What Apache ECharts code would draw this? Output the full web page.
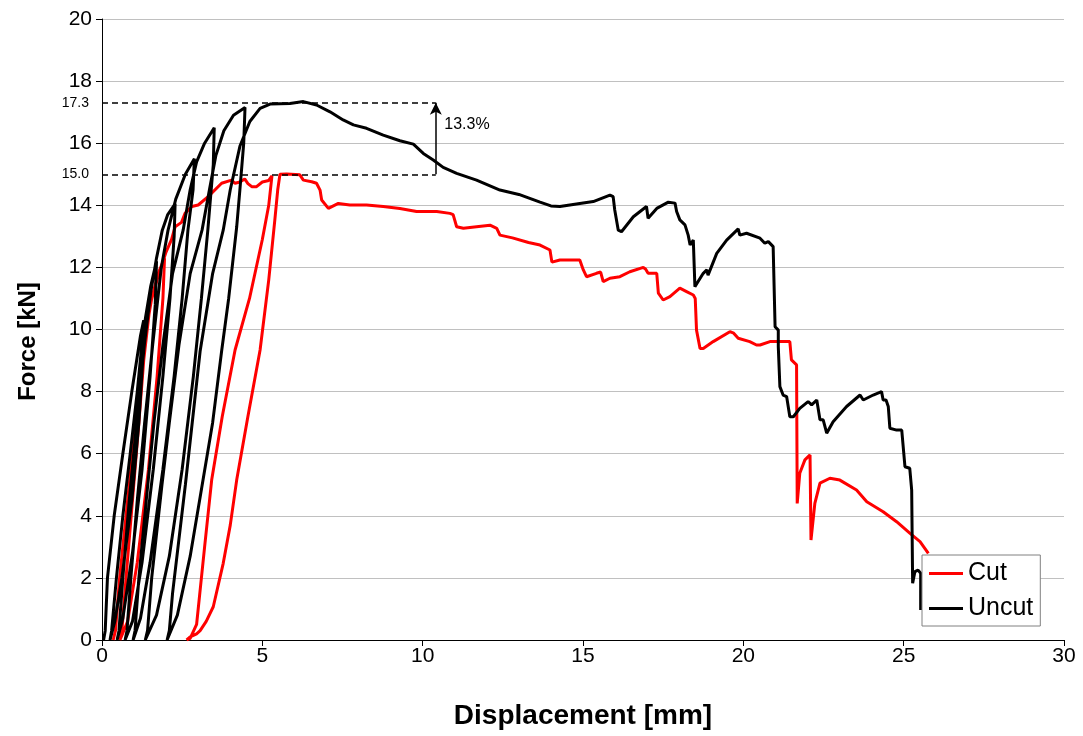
<!DOCTYPE html>
<html>
<head>
<meta charset="utf-8">
<script src="https://cdn.jsdelivr.net/npm/echarts@6/dist/echarts.min.js"></script>
<style>
html,body{margin:0;padding:0;background:#fff;}
#chart{width:1083px;height:736px;}
</style>
</head>
<body>
<div id="chart"></div>
<script>
// ---- data ----
const seriesNames = ['Cut', 'Uncut'];

const cutData = [
 [0.35,0],[0.42,0.3],[0.55,2],[0.75,4],[0.95,6],[1.15,8],[1.35,9.8],[1.55,11.0],[1.75,11.8],[1.95,12.3],
 [1.9,11.0],[1.72,8.5],[1.45,5.5],[1.1,2.5],[0.8,0.6],[0.56,0],
 [0.62,0.3],[0.75,2],[0.95,4.5],[1.15,7],[1.3,9],[1.5,10.8],[1.76,11.75],[2.0,12.5],[2.17,12.9],[2.28,13.31],[2.48,13.45],[2.59,13.74],[2.8,13.96],[3.0,14.01],[3.31,14.28],[3.73,14.71],[4.04,14.81],[4.15,14.71],[4.3,14.75],[4.45,14.85],[4.55,14.7],[4.67,14.6],[4.82,14.6],[5.0,14.75],[5.2,14.8],[5.3,14.95],
 [5.2,14.0],[5.0,12.9],[4.6,11.0],[4.15,9.34],[3.75,7.2],[3.42,5.15],[3.2,3.0],[3.05,1.5],[2.95,0.5],[2.75,0.05],[2.64,0],
 [2.75,0.1],[2.95,0.2],[3.06,0.3],[3.25,0.6],[3.47,1.07],[3.78,2.47],[4.0,3.7],[4.2,5.15],[4.55,7.2],[4.93,9.34],[5.2,11.6],[5.39,13.53],[5.48,14.5],[5.55,15.0],
 [5.76,15.01],[6.17,14.98],[6.28,14.81],[6.54,14.76],[6.69,14.71],[6.8,14.49],[6.85,14.17],[7.06,13.9],[7.37,14.06],[7.73,14.01],[8.25,14.01],[8.77,13.96],[9.29,13.9],[9.81,13.8],[10.44,13.8],[10.85,13.74],[10.95,13.7],[11.06,13.31],[11.27,13.26],[11.68,13.31],[12.1,13.36],[12.31,13.26],[12.41,13.04],[12.8,12.95],[13.3,12.8],[13.66,12.72],[13.97,12.56],[14.03,12.17],[14.28,12.24],[14.9,12.24],[15.01,11.92],[15.11,11.7],[15.42,11.81],[15.55,11.85],[15.63,11.54],[15.84,11.65],[16.15,11.7],[16.46,11.86],[16.88,12.0],[16.95,11.95],[17.03,11.81],[17.3,11.81],[17.35,11.17],[17.5,10.95],[17.71,11.06],[18.02,11.33],[18.23,11.22],[18.44,11.11],[18.5,11.0],[18.54,9.98],[18.65,9.39],[18.75,9.39],[19.06,9.61],[19.58,9.93],[19.7,9.88],[19.84,9.72],[20.2,9.61],[20.41,9.5],[20.52,9.5],[20.83,9.61],[21.45,9.61],[21.5,9.02],[21.66,8.86],[21.68,4.4],[21.76,5.37],[21.92,5.8],[22.08,5.96],[22.11,3.22],[22.23,4.4],[22.39,5.05],[22.7,5.21],[23.01,5.15],[23.53,4.83],[23.85,4.45],[24.36,4.13],[24.78,3.81],[25.19,3.44],[25.51,3.17],[25.77,2.79]
];

const uncutData = [
 [0.05,0],[0.1,0.3],[0.17,2],[0.38,4],[0.65,6],[0.93,8],[1.2,9.8],[1.3,10.3],
 [1.27,9.0],[1.15,7],[0.93,4.5],[0.62,2],[0.4,0.6],[0.25,0],
 [0.3,0.3],[0.45,2],[0.65,4],[0.88,6],[1.1,8],[1.26,9.7],[1.36,10.4],[1.52,11.4],[1.7,12.2],
 [1.66,10.8],[1.5,8.5],[1.25,5.5],[0.95,2.8],[0.65,0.7],[0.47,0],
 [0.53,0.3],[0.65,2],[0.85,4.5],[1.08,7],[1.32,9.5],[1.52,11.2],[1.7,12.3],[1.88,13.2],[2.05,13.7],[2.28,14.05],
 [2.25,13.0],[2.12,11],[1.9,8.5],[1.6,5.5],[1.25,2.5],[0.95,0.6],[0.72,0],
 [0.78,0.3],[0.9,2],[1.1,4.5],[1.33,7],[1.58,9.5],[1.85,12],[2.06,13.2],[2.3,14.2],[2.6,15.0],[2.88,15.5],
 [2.84,14.5],[2.68,13.2],[2.5,11],[2.25,8.5],[1.9,5.5],[1.5,2.5],[1.2,0.7],[0.97,0],
 [1.03,0.3],[1.15,2],[1.38,4.5],[1.62,7],[1.9,9.5],[2.2,11.8],[2.53,13.2],[2.75,14.5],[2.95,15.4],[3.2,16.0],[3.5,16.5],
 [3.47,15.3],[3.3,13.2],[3.1,11],[2.85,8.5],[2.5,5.5],[2.1,2.7],[1.7,0.8],[1.35,0],
 [1.42,0.3],[1.55,2],[1.87,5],[2.1,7],[2.4,9.5],[2.75,11.8],[3.12,13.2],[3.35,14.5],[3.55,15.6],[3.8,16.4],[4.1,16.9],[4.46,17.15],
 [4.42,16.0],[4.3,14.5],[4.2,13.3],[3.95,11],[3.73,9.3],[3.45,7],[3.15,5.15],[2.75,2.7],[2.35,0.8],[2.03,0],
 [2.1,0.3],[2.2,1.5],[2.6,5],[3.06,9.3],[3.45,11.8],[3.78,13.2],[4.0,14.5],[4.3,15.9],[4.61,16.7],[4.93,17.12],[5.24,17.26],[5.86,17.28],[6.28,17.34],[6.69,17.23],[7.11,17.01],[7.52,16.75],[7.84,16.59],[8.25,16.48],[8.77,16.26],[9.29,16.08],[9.71,15.97],[10.02,15.67],[10.33,15.46],[10.64,15.22],[11.06,15.03],[11.68,14.81],[12.41,14.49],[13.0,14.35],[13.66,14.1],[14.0,13.98],[14.28,13.96],[14.9,14.06],[15.32,14.12],[15.84,14.33],[15.94,14.28],[15.99,13.85],[16.1,13.2],[16.2,13.15],[16.57,13.63],[16.98,13.96],[17.03,13.58],[17.3,13.9],[17.66,14.1],[17.87,14.07],[17.92,13.8],[18.02,13.53],[18.18,13.37],[18.28,13.04],[18.34,12.72],[18.44,12.88],[18.49,11.38],[18.54,11.38],[18.75,11.81],[18.86,11.92],[18.9,11.75],[19.17,12.45],[19.48,12.88],[19.84,13.24],[19.89,13.04],[20.1,13.1],[20.52,12.94],[20.67,12.78],[20.78,12.83],[20.93,12.67],[20.99,10.09],[21.09,9.98],[21.09,9.45],[21.14,8.16],[21.24,7.89],[21.35,7.84],[21.45,7.19],[21.56,7.19],[21.76,7.46],[22.02,7.68],[22.13,7.57],[22.29,7.73],[22.33,7.73],[22.39,7.09],[22.49,7.09],[22.6,6.66],[22.8,7.03],[23.22,7.52],[23.64,7.89],[23.74,7.73],[24.05,7.89],[24.31,8.0],[24.36,7.73],[24.45,7.73],[24.52,7.52],[24.57,6.82],[24.78,6.76],[24.94,6.76],[25.04,5.58],[25.19,5.53],[25.25,4.83],[25.28,1.83],[25.35,2.2],[25.45,2.25],[25.53,2.15],[25.53,0.97]
];

// annotation values
const peakUncut = 17.3;
const peakCut = 15.0;
const annotX = 10.41;
const reductionLabel = '13.3%';
const reductionLabelY = 16.59;

// axis settings
const xRange = [0, 30, 5];
const yRange = [0, 20, 2];
const xTitle = 'Displacement [mm]';
const yTitle = 'Force [kN]';

// ---- chart ----
const FONT = 'Liberation Sans, Arial, sans-serif';
const chart = echarts.init(document.getElementById('chart'), null, {renderer: 'canvas'});

const dashStyle = {type: [6, 4], color: '#000', width: 1.5};
const sideLabel = (txt) => ({show: true, position: 'start', distance: 13, formatter: txt, color: '#000', fontSize: 14, fontFamily: FONT});

chart.setOption({
  animation: false,
  backgroundColor: '#fff',
  grid: {left: 102, right: 19, top: 19, bottom: 96},
  legend: {
    data: seriesNames,
    orient: 'vertical',
    left: 922, top: 555,
    padding: [6, 7, 5, 7],
    itemWidth: 34, itemHeight: 3, itemGap: 10,
    icon: 'rect',
    borderColor: '#808080', borderWidth: 1,
    backgroundColor: '#fff',
    textStyle: {fontSize: 25, color: '#000', fontFamily: FONT, lineHeight: 24}
  },
  xAxis: {
    type: 'value', min: xRange[0], max: xRange[1], interval: xRange[2],
    name: xTitle, nameLocation: 'middle', nameGap: 62,
    nameTextStyle: {fontSize: 28, fontWeight: 'bold', color: '#000', fontFamily: FONT},
    axisLine: {show: true, lineStyle: {color: '#000', width: 1}},
    axisTick: {show: true, length: 6, lineStyle: {color: '#000'}},
    axisLabel: {color: '#000', fontSize: 21, fontFamily: FONT, margin: 6},
    splitLine: {show: false}
  },
  yAxis: {
    type: 'value', min: yRange[0], max: yRange[1], interval: yRange[2],
    name: yTitle, nameLocation: 'middle', nameGap: 62,
    nameTextStyle: {fontSize: 24, fontWeight: 'bold', color: '#000', fontFamily: FONT, padding: [0, 24, 0, 0]},
    axisLine: {show: true, lineStyle: {color: '#000', width: 1}},
    axisTick: {show: true, length: 6, lineStyle: {color: '#000'}},
    axisLabel: {color: '#000', fontSize: 21, fontFamily: FONT, margin: 10},
    splitLine: {show: true, lineStyle: {color: '#c0c0c0', width: 1}}
  },
  series: [
    {
      name: seriesNames[0], type: 'line', data: cutData,
      showSymbol: false, symbol: 'none', z: 2,
      lineStyle: {color: '#ff0000', width: 3}, itemStyle: {color: '#ff0000'}
    },
    {
      name: seriesNames[1], type: 'line', data: uncutData,
      showSymbol: false, symbol: 'none', z: 3,
      lineStyle: {color: '#000000', width: 3}, itemStyle: {color: '#000000'},
      markLine: {
        silent: true, symbol: ['none', 'none'],
        data: [
          [{coord: [0, peakUncut], lineStyle: dashStyle, label: sideLabel(peakUncut.toFixed(1))}, {coord: [annotX, peakUncut]}],
          [{coord: [0, peakCut], lineStyle: dashStyle, label: sideLabel(peakCut.toFixed(1))}, {coord: [annotX, peakCut]}],
          [{coord: [annotX, peakCut], symbol: 'none', lineStyle: {type: 'solid', color: '#000', width: 1.5}, label: {show: false}},
           {coord: [annotX, peakUncut], symbol: 'arrow', symbolSize: [9, 12]}]
        ]
      },
      markPoint: {
        silent: true,
        data: [{coord: [annotX, reductionLabelY], symbol: 'circle', symbolSize: 1,
          itemStyle: {color: 'rgba(0,0,0,0)'},
          label: {show: true, position: 'right', distance: 8, formatter: reductionLabel, color: '#000', fontSize: 16, fontFamily: FONT}}]
      }
    }
  ]
});
</script>
</body>
</html>
